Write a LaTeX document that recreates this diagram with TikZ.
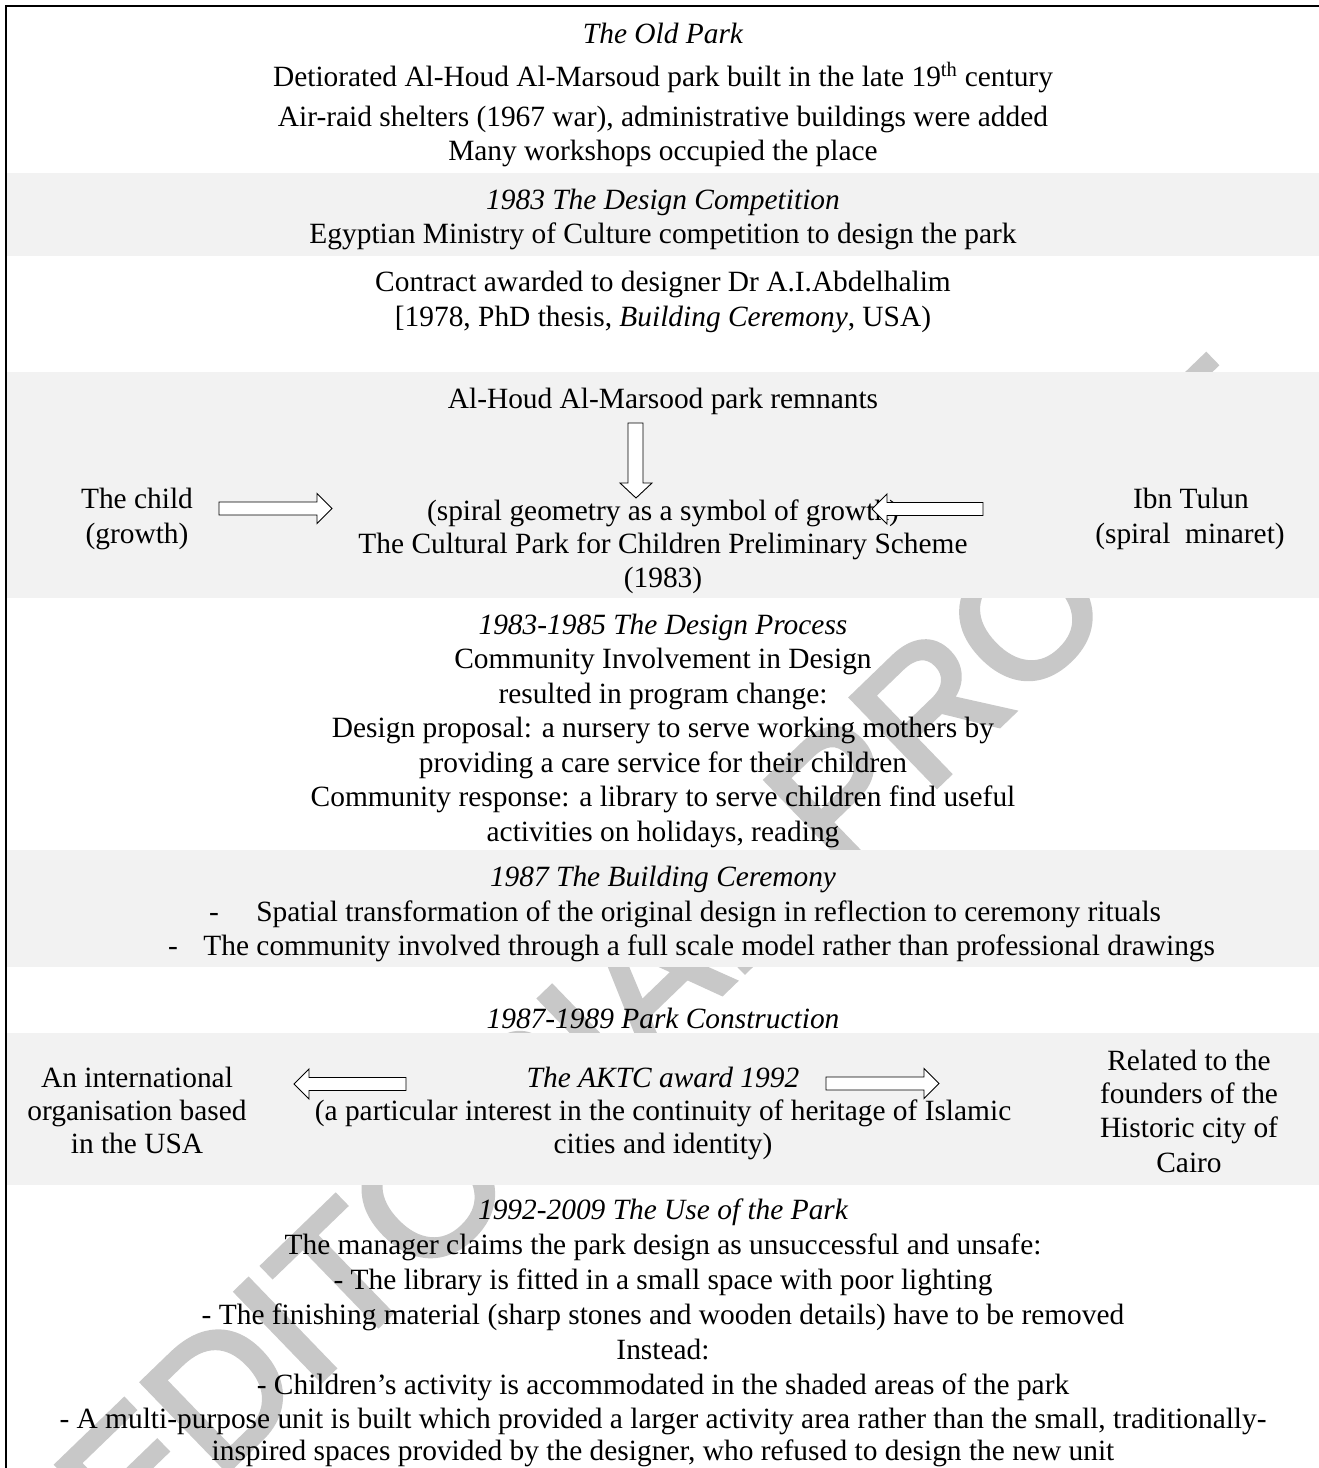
\documentclass[tikz,border=0pt]{standalone}
\usepackage{fontspec}
\setmainfont{Liberation Serif}
\newfontfamily\wmfont[FakeBold=3]{Liberation Sans}
\definecolor{bandgray}{RGB}{242,242,242}
\definecolor{wmgray}{RGB}{200,200,200}
\newcommand\myrarrow[3]{\draw[barrow] ({#1},{#3-6.5}) -- ({#2-15},{#3-6.5}) -- ({#2-15},{#3-15}) -- ({#2},{#3}) -- ({#2-15},{#3+15}) -- ({#2-15},{#3+6.5}) -- ({#1},{#3+6.5}) -- cycle;}
\newcommand\mylarrow[3]{\draw[barrow] ({#1},{#3-6.5}) -- ({#2+15},{#3-6.5}) -- ({#2+15},{#3-15}) -- ({#2},{#3}) -- ({#2+15},{#3+15}) -- ({#2+15},{#3+6.5}) -- ({#1},{#3+6.5}) -- cycle;}
\begin{document}
\begin{tikzpicture}[x=1pt,y=-1pt,
  every node/.style={inner sep=0pt, outer sep=0pt},
  txt/.style={anchor=base, font=\fontsize{29.4}{34}\selectfont},
  itx/.style={anchor=base, font=\fontsize{29.4}{34}\selectfont\itshape},
  barrow/.style={draw=black, fill=white, line width=0.9pt, line join=miter},
  wm/.style={anchor=base west, rotate=44, text=wmgray, font=\fontsize{178}{178}\selectfont\wmfont}]
\useasboundingbox (0,0) rectangle (1319,1468);
\fill[white] (0,0) rectangle (1319,1468);
% watermark
\node[wm] (wm) at (132,1563) {EDITORIAL PROOF};
% bands
\fill[bandgray] (7,173) rectangle (1319,256);
\fill[bandgray] (7,372) rectangle (1319,598);
\fill[bandgray] (7,850) rectangle (1319,967);
\fill[bandgray] (7,1033) rectangle (1319,1185);
% frame
\draw[line width=2pt] (6,1468) -- (6,6) -- (1319,6);
% section 1
\node[itx] (t1) at (663,43) {The Old Park};
\node[txt] (t2) at (663,86) {Detiorated Al-Houd Al-Marsoud park built in the late 19\textsuperscript{th} century};
\node[txt] (t3) at (663,126) {Air-raid shelters (1967 war), administrative buildings were added};
\node[txt] (t4) at (663,160) {Many workshops occupied the place};
% competition
\node[itx] (c1) at (663,209) {1983 The Design Competition};
\node[txt] (c2) at (663,243) {Egyptian Ministry of Culture competition to design the park};
\node[txt] (k1) at (663,291) {Contract awarded to designer Dr A.I.Abdelhalim};
\node[txt] (k2) at (663,326) {[1978, PhD thesis, \textit{Building Ceremony}, USA)};
% preliminary scheme
\node[txt] (r1) at (663,408) {Al-Houd Al-Marsood park remnants};
\node[txt] (ch1) at (137,508) {The child};
\node[txt] (ch2) at (137,543) {(growth)};
\node[txt] (s1) at (663,520) {(spiral geometry as a symbol of growth)};
\node[txt] (s2) at (663,553) {The Cultural Park for Children Preliminary Scheme};
\node[txt] (s3) at (663,587) {(1983)};
\node[txt] (ib1) at (1191,508) {Ibn Tulun};
\node[txt] (ib2) at (1190,543) {(spiral\ \ minaret)};
\draw[barrow] (628,423) -- (643,423) -- (643,483) -- (652,483) -- (636,498) -- (620,483) -- (628,483) -- cycle;
\myrarrow{219}{332}{508.5}
\mylarrow{983}{872}{509}
% design process
\node[itx] (d1) at (663,634) {1983-1985 The Design Process};
\node[txt] (d2) at (663,668.5) {Community Involvement in Design};
\node[txt] (d3) at (663,703) {resulted in program change:};
\node[txt] (d4) at (663,737.5) {Design proposal: a nursery to serve working mothers by};
\node[txt] (d5) at (663,772) {providing a care service for their children};
\node[txt] (d6) at (663,806.5) {Community response: a library to serve children find useful};
\node[txt] (d7) at (663,841) {activities on holidays, reading};
% building ceremony
\node[itx] (b1) at (663,886) {1987 The Building Ceremony};
\node[txt] (bd1) at (214,921) {-};
\node[txt, anchor=base east] (b2) at (1161,921) {Spatial transformation of the original design in reflection to ceremony rituals};
\node[txt] (bd2) at (173,955) {-};
\node[txt, anchor=base east] (b3) at (1215,955) {The community involved through a full scale model rather than professional drawings};
% construction
\node[itx] (pc) at (663,1028) {1987-1989 Park Construction};
\node[txt] (in1) at (137,1087) {An international};
\node[txt] (in2) at (137,1120) {organisation based};
\node[txt] (in3) at (137,1153) {in the USA};
\node[itx] (a1) at (663,1087) {The AKTC award 1992};
\node[txt] (a2) at (663,1120) {(a particular interest in the continuity of heritage of Islamic};
\node[txt] (a3) at (663,1153) {cities and identity)};
\node[txt] (re1) at (1189,1070) {Related to the};
\node[txt] (re2) at (1189,1103) {founders of the};
\node[txt] (re3) at (1189,1137) {Historic city of};
\node[txt] (re4) at (1189,1172) {Cairo};
\mylarrow{406}{294}{1084}
\myrarrow{826}{939}{1083.5}
% use of the park
\node[itx] (u1) at (663,1219) {1992-2009 The Use of the Park};
\node[txt] (u2) at (663,1254) {The manager claims the park design as unsuccessful and unsafe:};
\node[txt] (u3) at (663,1289) {- The library is fitted in a small space with poor lighting};
\node[txt] (u4) at (663,1324) {- The finishing material (sharp stones and wooden details) have to be removed};
\node[txt] (u5) at (663,1359) {Instead:};
\node[txt] (u6) at (663,1394) {- Children’s activity is accommodated in the shaded areas of the park};
\node[txt] (u7) at (663,1428) {- A multi-purpose unit is built which provided a larger activity area rather than the small, traditionally-};
\node[txt] (u8) at (663,1460) {inspired spaces provided by the designer, who refused to design the new unit};
\end{tikzpicture}
\end{document}
